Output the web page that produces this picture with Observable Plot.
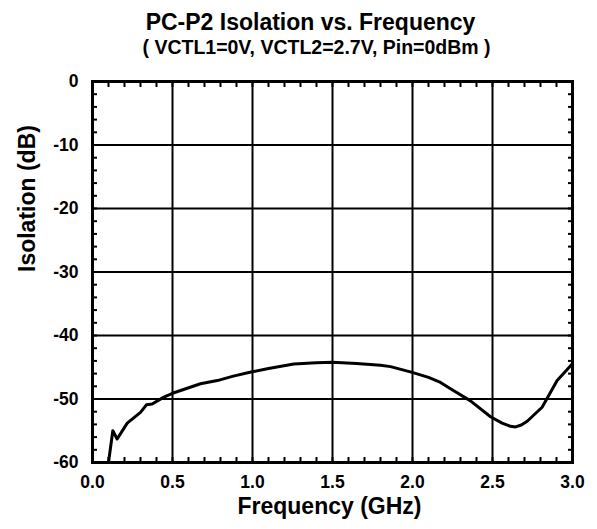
<!DOCTYPE html>
<html><head><meta charset="utf-8">
<script src="https://cdn.jsdelivr.net/npm/d3@7"></script>
<script src="https://cdn.jsdelivr.net/npm/@observablehq/plot@0.6"></script>
<style>body{margin:0;background:#fff}svg{font-family:"Liberation Sans",Arial,sans-serif}</style>
</head><body><div id="chart"></div>
<script>
const freq = [0.10,0.127,0.154,0.217,0.30,0.3375,0.373,0.446,0.50,0.675,0.78,0.88,0.984,1.10,1.258,1.40,1.50,1.65,1.80,1.8625,1.998,2.10,2.175,2.2375,2.3625,2.4875,2.56,2.6125,2.644,2.68,2.717,2.81,2.904,2.998];
const iso  = [-60,-55.0,-56.3,-53.8,-52.1,-50.9,-50.8,-49.7,-49.1,-47.6,-47.1,-46.4,-45.8,-45.2,-44.5,-44.3,-44.2,-44.4,-44.7,-44.9,-45.8,-46.6,-47.4,-48.4,-50.3,-52.8,-53.8,-54.3,-54.4,-54.1,-53.5,-51.3,-47.1,-44.5];
const xTicks = [0,0.5,1,1.5,2,2.5,3];
const yTicks = [0,-10,-20,-30,-40,-50,-60];
const xMinor = d3.range(0,3.0001,0.1).map(v=>+v.toFixed(1));
const yMinor = d3.range(-60,0.0001,2);
const title = "PC-P2 Isolation vs. Frequency";
const subtitle = "( VCTL1=0V, VCTL2=2.7V, Pin=0dBm )";
const xLabel = "Frequency (GHz)";
const yLabel = "Isolation (dB)";

const data = freq.map((f,i)=>({f, v: iso[i]}));
const font = {fontFamily:"Liberation Sans, Arial, sans-serif", fontWeight:"bold"};

const chart = Plot.plot({
  width: 597, height: 529,
  marginLeft: 92, marginRight: 25, marginTop: 81, marginBottom: 67,
  style: {fontFamily:"Liberation Sans, Arial, sans-serif", background:"#fff", color:"#000"},
  x: {domain:[0,3]},
  y: {domain:[-60,0]},
  marks: [
    Plot.gridX(xTicks, {stroke:"#000", strokeOpacity:1, strokeWidth:2}),
    Plot.gridY(yTicks, {stroke:"#000", strokeOpacity:1, strokeWidth:2}),
    Plot.axisX(xMinor, {anchor:"bottom", tickSize:5, dy:-5, text:null, label:null, strokeWidth:2}),
    Plot.axisX(xMinor, {anchor:"top", tickSize:5, dy:5, text:null, label:null, strokeWidth:2}),
    Plot.axisY(yMinor, {anchor:"left", tickSize:5, dx:5, text:null, label:null, strokeWidth:2}),
    Plot.axisY(yMinor, {anchor:"right", tickSize:5, dx:-5, text:null, label:null, strokeWidth:2}),
    Plot.axisX(xTicks, {anchor:"bottom", tickSize:0, tickPadding:13, tickFormat:d=>d.toFixed(1), fontSize:17.5, fontWeight:"bold", label:null}),
    Plot.axisY(yTicks, {anchor:"left", tickSize:0, tickPadding:14, tickFormat:d=>String(d), fontSize:17.5, fontWeight:"bold", label:null}),
    Plot.line(data, {x:"f", y:"v", stroke:"#000", strokeWidth:3, curve:"linear"}),
    Plot.frame({stroke:"#000", strokeWidth:3}),
    Plot.text([title], {frameAnchor:"top", dy:-52, dx:-22, text:d=>d, fontSize:23, ...font, lineAnchor:"bottom"}),
    Plot.text([subtitle], {frameAnchor:"top", dy:-28, dx:-16, text:d=>d, fontSize:19.5, ...font, lineAnchor:"bottom"}),
    Plot.text([xLabel], {frameAnchor:"bottom", dy:51, dx:-3, text:d=>d, fontSize:23, ...font, lineAnchor:"bottom"}),
    Plot.text([yLabel], {frameAnchor:"left", dx:-65, rotate:-90, text:d=>d, fontSize:23, ...font})
  ]
});
document.getElementById("chart").append(chart);
</script></body></html>
